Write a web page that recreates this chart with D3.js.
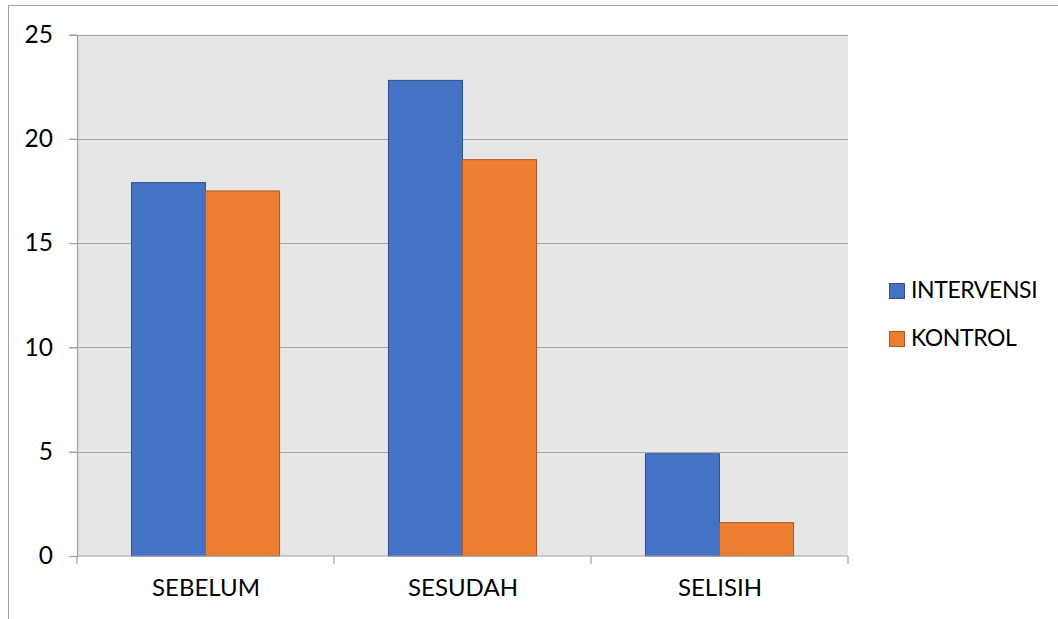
<!DOCTYPE html>
<html>
<head>
<meta charset="utf-8">
<script src="https://cdn.jsdelivr.net/npm/d3@7"></script>
<style>
  html, body { margin: 0; padding: 0; background: #fff; }
  svg { display: block; font-family: Lato, "Open Sans", sans-serif; }
</style>
</head>
<body>
<svg id="chart" width="1058" height="619"></svg>
<script>
// Categories, series and values
const categories = ["SEBELUM", "SESUDAH", "SELISIH"];
const seriesNames = ["INTERVENSI", "KONTROL"];
const intervensi = [17.9, 22.8, 4.9];
const kontrol = [17.5, 19.0, 1.6];
const yTicks = [0, 5, 10, 15, 20, 25];

const fills = ["#4472C4", "#ED7D31"];
const strokes = ["#2F528F", "#AE5A21"];

const svg = d3.select("#chart");
const W = 1058, H = 619;
const plot = { left: 77, right: 848, top: 34.5, bottom: 556 };

// outer chart frame
svg.append("rect")
  .attr("x", 8.5).attr("y", 5.5)
  .attr("width", W + 10).attr("height", H + 10)
  .attr("fill", "#fff").attr("stroke", "#a0a0a0").attr("stroke-width", 1);

// plot background
svg.append("rect")
  .attr("x", plot.left).attr("y", plot.top)
  .attr("width", plot.right - plot.left).attr("height", plot.bottom - plot.top)
  .attr("fill", "#e7e6e6");

const x0 = d3.scaleBand().domain(categories).range([plot.left, plot.right]).paddingInner(0.4237).paddingOuter(0.2119);
const x1 = d3.scaleBand().domain(seriesNames).range([0, x0.bandwidth()]);
const y = d3.scaleLinear().domain([0, 25]).range([plot.bottom, plot.top]);

// gridlines
svg.append("g").selectAll("line").data(yTicks.filter(t => t > 0)).join("line")
  .attr("x1", plot.left - 8).attr("x2", plot.right)
  .attr("y1", d => Math.round(y(d)) + 0.5).attr("y2", d => Math.round(y(d)) + 0.5)
  .attr("stroke", "#a6a6a6").attr("stroke-width", 1.2);

// bars
const rows = categories.map((c, i) => ({ cat: c, vals: [intervensi[i], kontrol[i]] }));
svg.append("g").selectAll("g").data(rows).join("g")
  .attr("transform", d => `translate(${x0(d.cat)},0)`)
  .selectAll("rect").data(d => d.vals.map((v, j) => ({ v, j }))).join("rect")
  .attr("x", d => x1(seriesNames[d.j]))
  .attr("y", d => y(d.v))
  .attr("width", x1.bandwidth())
  .attr("height", d => y(0) - y(d.v))
  .attr("fill", d => fills[d.j])
  .attr("stroke", d => strokes[d.j])
  .attr("stroke-width", 1);

// y axis
const yAxis = svg.append("g")
  .attr("transform", `translate(${plot.left},0)`)
  .call(d3.axisLeft(y).tickValues(yTicks).tickSize(8).tickPadding(16).tickSizeOuter(0));
yAxis.select(".domain").attr("stroke", "#a0a0a0").attr("stroke-width", 1.2);
yAxis.selectAll(".tick line").attr("stroke", "#a0a0a0").attr("stroke-width", 1.2);
yAxis.selectAll(".tick text").attr("font-size", 24.5).attr("font-family", "Lato, sans-serif").attr("fill", "#000");

// x axis
const xAxis = svg.append("g")
  .attr("transform", `translate(0,${plot.bottom})`)
  .call(d3.axisBottom(d3.scaleOrdinal().domain(categories).range(categories.map(c => x0(c) + x0.bandwidth() / 2)))
    .tickSize(0).tickPadding(23));
xAxis.select(".domain").remove();
svg.append("line")
  .attr("x1", plot.left).attr("x2", plot.right)
  .attr("y1", plot.bottom).attr("y2", plot.bottom)
  .attr("stroke", "#a0a0a0").attr("stroke-width", 1.2);
const sep = [0, 1, 2, 3].map(i => plot.left + i * (plot.right - plot.left) / 3);
svg.append("g").selectAll("line").data(sep).join("line")
  .attr("x1", d => d).attr("x2", d => d)
  .attr("y1", plot.bottom).attr("y2", plot.bottom + 8)
  .attr("stroke", "#a0a0a0").attr("stroke-width", 1.2);
xAxis.selectAll(".tick text").attr("font-size", 24).attr("font-family", "Lato, sans-serif").attr("fill", "#000");

// legend
const legend = svg.append("g");
seriesNames.forEach((s, i) => {
  const gy = 283 + i * 48;
  legend.append("rect").attr("x", 889.5).attr("y", gy + 0.5).attr("width", 15).attr("height", 15)
    .attr("fill", fills[i]).attr("stroke", strokes[i]).attr("stroke-width", 1);
  legend.append("text").attr("x", 911).attr("y", gy + 15)
    .attr("font-size", 23).attr("letter-spacing", -0.4).attr("fill", "#000").text(s);
});
</script>
</body>
</html>
